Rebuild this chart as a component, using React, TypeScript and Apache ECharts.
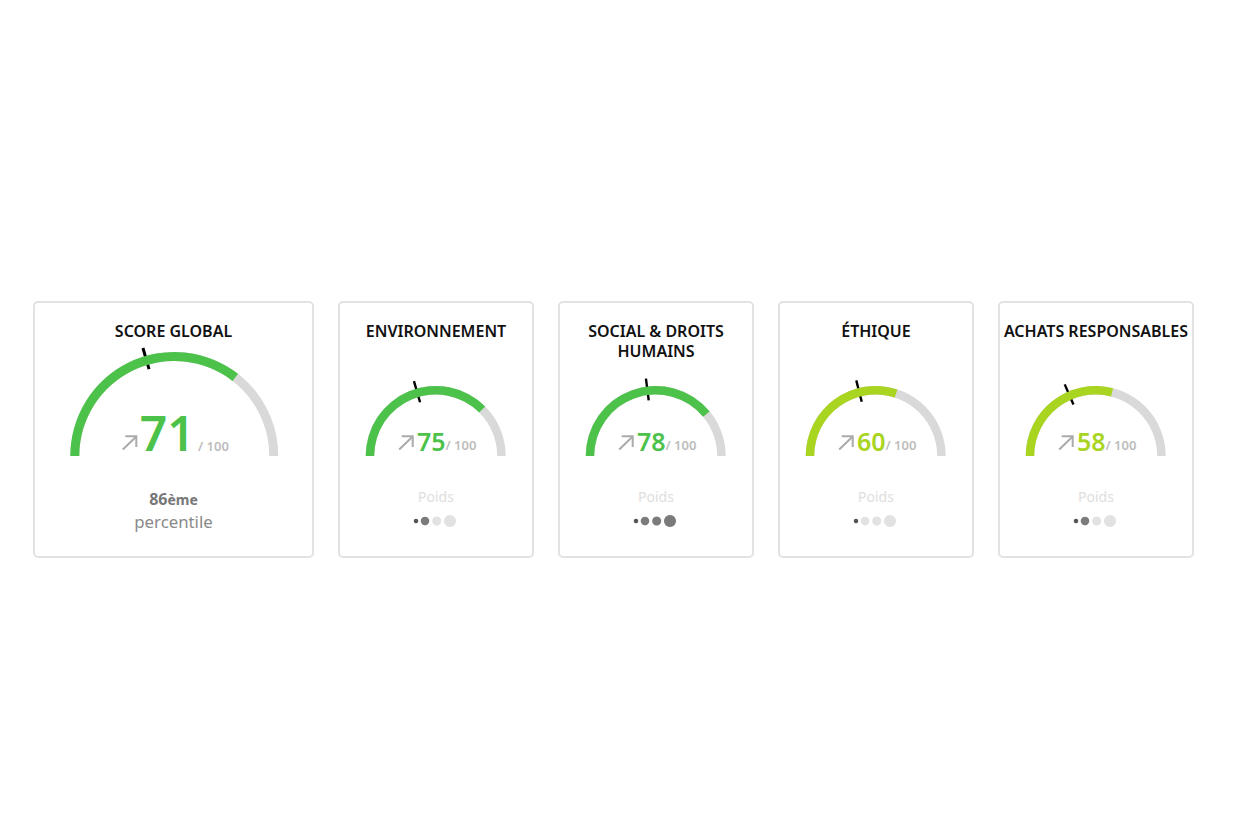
import React, { useEffect, useRef } from "react";
import * as echarts from "echarts";

const titles = ["SCORE GLOBAL", "ENVIRONNEMENT", "SOCIAL & DROITS\nHUMAINS", "ÉTHIQUE", "ACHATS RESPONSABLES"];
const scores = [71, 75, 78, 60, 58];
const benchmarks = [41, 41, 46, 42, 37];
// number of filled weight dots, null on the global card
const poids = [null, 2, 4, 1, 2];
const dotLevels = [1, 2, 3, 4];
const percentileRank = "86";

const GREEN = "#4cc24a";
const LIME = "#a9d41f";
const FONT = "Noto Sans";

const cards = [
  { left: 34, width: 279, cx: 174.3, r: 104, ring: 9 },
  { left: 339, width: 194, cx: 435.7, r: 70, ring: 8.5 },
  { left: 559, width: 194, cx: 655.7, r: 70, ring: 8.5 },
  { left: 779, width: 194, cx: 875.7, r: 70, ring: 8.5 },
  { left: 999, width: 194, cx: 1095.7, r: 70, ring: 8.5 },
];
const TOP = 302;
const CARD_H = 255;
const CY = 456;
const dotX = [0, 9, 20.7, 34];
const dotSize = [4.5, 8.5, 9, 12];

function buildOption(): echarts.EChartsOption {
  const series: any[] = [];
  const graphic: any[] = [];
  const grid: any[] = [];
  const xAxis: any[] = [];
  const yAxis: any[] = [];

  cards.forEach((c, i) => {
    const big = i === 0;
    const color = scores[i] >= 70 ? GREEN : LIME;
    const midX = c.left + c.width / 2;

    graphic.push({
      type: "rect",
      z: -1,
      shape: { x: c.left, y: TOP, width: c.width, height: CARD_H, r: 4 },
      style: { fill: "#fff", stroke: "#e2e2e2", lineWidth: 2 },
    });
    graphic.push({
      type: "text",
      x: midX,
      y: 321,
      style: {
        text: titles[i],
        fill: "#111",
        font: `600 16px "${FONT}"`,
        lineHeight: 20,
        align: "center",
        verticalAlign: "top",
      },
    });

    // score ring
    series.push({
      type: "gauge",
      center: [c.cx, CY],
      radius: c.r,
      startAngle: 180,
      endAngle: 0,
      min: 0,
      max: 100,
      axisLine: { lineStyle: { width: c.ring, color: [[1, "#d9d9d9"]] } },
      progress: { show: true, width: c.ring, itemStyle: { color } },
      axisTick: { show: false },
      splitLine: { show: false },
      axisLabel: { show: false },
      pointer: { show: false },
      anchor: { show: false },
      title: { show: false },
      detail: {
        show: true,
        offsetCenter: big ? [10, -24] : [11, -15],
        formatter: (v: number) => `{v|${v}}{t|${big ? " " : ""}/ 100}`,
        rich: {
          v: { color, fontFamily: FONT, fontWeight: 600, fontSize: big ? 48 : 25 },
          t: { color: "#bdbdbd", fontFamily: FONT, fontWeight: 600, fontSize: 13, padding: [big ? 28 : 8, 0, 0, 0] },
        },
      },
      data: [{ value: scores[i] }],
    });

    // black benchmark tick
    series.push({
      type: "gauge",
      center: [c.cx, CY],
      radius: c.r,
      startAngle: 180,
      endAngle: 0,
      min: 0,
      max: 100,
      axisLine: { show: false },
      axisTick: { show: false },
      splitLine: { show: false },
      axisLabel: { show: false },
      anchor: { show: false },
      title: { show: false },
      detail: { show: false },
      pointer: {
        show: true,
        icon: "rect",
        width: big ? 3 : 2.4,
        length: 22,
        offsetCenter: [0, big ? -90.5 : -56],
        itemStyle: { color: "#000" },
      },
      data: [{ value: benchmarks[i] }],
    });

    // trend arrow
    const ax = c.cx + (big ? -51.5 : -36.5);
    graphic.push({
      type: "group",
      children: [
        { type: "line", shape: { x1: ax, y1: 449.5, x2: ax + 13.5, y2: 436.5 }, style: { stroke: "#aaa", lineWidth: 2 } },
        {
          type: "polyline",
          shape: { points: [[ax + 2.5, 436.2], [ax + 13.5, 436.2], [ax + 13.5, 447]] },
          style: { stroke: "#aaa", lineWidth: 2, fill: "none" },
        },
      ],
    });

    const level = poids[i];
    if (level === null) {
      graphic.push({
        type: "text",
        x: midX,
        y: 499,
        style: {
          text: `{a|${percentileRank}}{b|ème}`,
          align: "center",
          verticalAlign: "middle",
          rich: {
            a: { font: `700 16px "${FONT}"`, fill: "#777" },
            b: { font: `700 14px "${FONT}"`, fill: "#777" },
          },
        },
      });
      graphic.push({
        type: "text",
        x: midX,
        y: 521,
        style: { text: "percentile", fill: "#8a8a8a", font: `400 16.8px "${FONT}"`, align: "center", verticalAlign: "middle" },
      });
    } else {
      graphic.push({
        type: "text",
        x: midX,
        y: 496,
        style: { text: "Poids", fill: "#dedede", font: `400 14px "${FONT}"`, align: "center", verticalAlign: "middle" },
      });
      const g = grid.length;
      grid.push({ left: midX - 20, top: 511, width: 34, height: 20 });
      xAxis.push({ type: "value", gridIndex: g, show: false, min: 0, max: 34 });
      yAxis.push({ type: "value", gridIndex: g, show: false, min: 0, max: 2 });
      series.push({
        type: "scatter",
        xAxisIndex: g,
        yAxisIndex: g,
        clip: false,
        data: dotLevels.map((d, k) => ({
          value: [dotX[k], 1],
          symbolSize: dotSize[k],
          itemStyle: { color: k === 0 ? "#555" : d <= level ? "#7b7b7b" : "#e2e2e2", opacity: 1 },
        })),
      });
    }
  });

  return { animation: false, backgroundColor: "#fff", grid, xAxis, yAxis, series, graphic };
}

export default function App() {
  const ref = useRef<HTMLDivElement>(null);

  useEffect(() => {
    if (!ref.current) return;
    const chart = echarts.init(ref.current, undefined, { renderer: "svg" });
    chart.setOption(buildOption());
    return () => chart.dispose();
  }, []);

  return <div ref={ref} style={{ position: "absolute", left: 0, top: 0, width: 1260, height: 840 }} />;
}
